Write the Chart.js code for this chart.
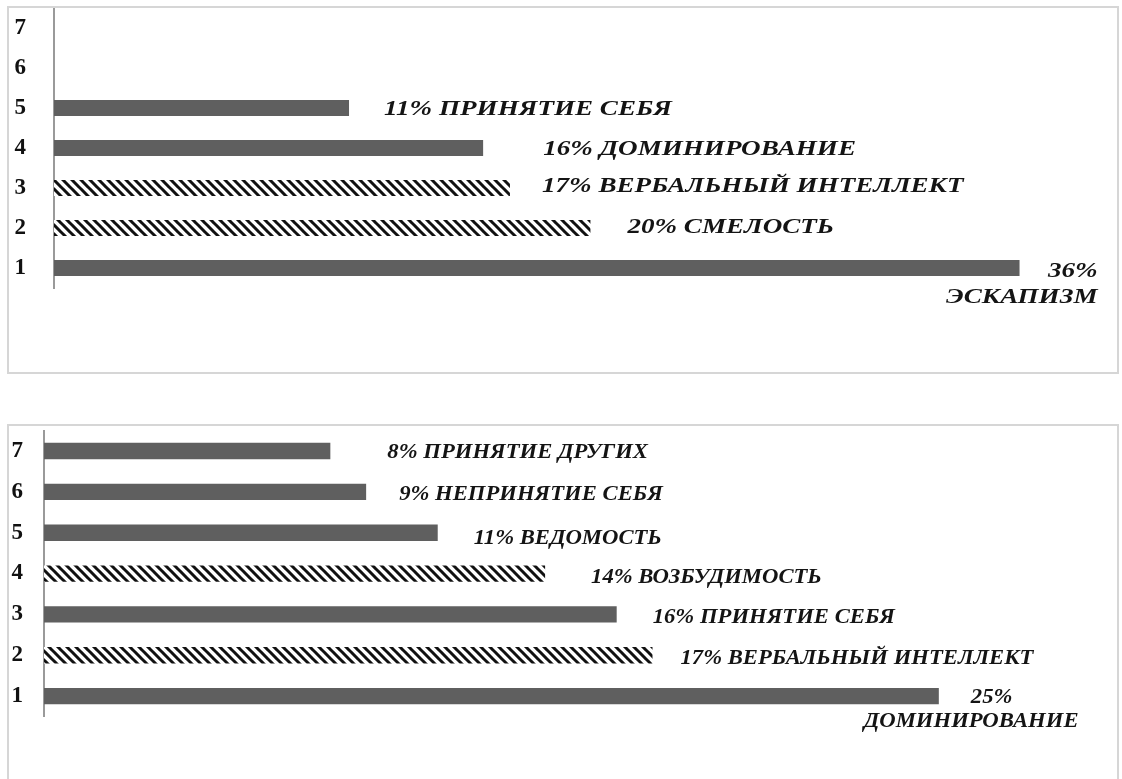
<!DOCTYPE html>
<html><head><meta charset="utf-8">
<script src="https://cdn.jsdelivr.net/npm/chart.js@4"></script>
<style>
html,body{margin:0;padding:0;background:#fff;}
body{width:1122px;height:779px;position:relative;overflow:hidden;}
.frame{position:absolute;border:2px solid #d6d6d6;box-sizing:border-box;}
.wrap{position:absolute;}
</style></head><body>
<div class="frame" style="left:7px;top:6px;width:1112px;height:368px"></div>
<div class="frame" style="left:7px;top:424px;width:1112px;height:370px"></div>
<div class="wrap" style="left:8px;top:8px;width:1110px;height:364px"><canvas id="c1"></canvas></div>
<div class="wrap" style="left:8px;top:426px;width:1110px;height:353px"><canvas id="c2"></canvas></div>
<script>
// ---- data ----
const categories = ['1', '2', '3', '4', '5', '6', '7'];

const topValues = [36, 20, 17, 16, 11, null, null];
const topNames = ['ЭСКАПИЗМ', 'СМЕЛОСТЬ', 'ВЕРБАЛЬНЫЙ ИНТЕЛЛЕКТ', 'ДОМИНИРОВАНИЕ', 'ПРИНЯТИЕ СЕБЯ', '', ''];
const topHatched = [false, true, true, false, false, false, false];

const bottomValues = [25, 17, 16, 14, 11, 9, 8];
const bottomNames = ['ДОМИНИРОВАНИЕ', 'ВЕРБАЛЬНЫЙ ИНТЕЛЛЕКТ', 'ПРИНЯТИЕ СЕБЯ', 'ВОЗБУДИМОСТЬ', 'ВЕДОМОСТЬ', 'НЕПРИНЯТИЕ СЕБЯ', 'ПРИНЯТИЕ ДРУГИХ'];
const bottomHatched = [false, true, false, true, false, false, false];

// ---- label placement (style, offsets in px from bar end / bar centre) ----
const topLabelLayout = [
  [{dx: 78, dy: 4, align: 'right'}, {dx: 78, dy: 30, align: 'right'}],
  [{dx: 37, dy: 0}],
  [{dx: 32, dy: -1}],
  [{dx: 60, dy: 2}],
  [{dx: 35, dy: 2}],
  null, null
];
const bottomLabelLayout = [
  [{dx: 32, dy: 1}, {dx: -75, dy: 25}],
  [{dx: 28, dy: 3}],
  [{dx: 36, dy: 3}],
  [{dx: 46, dy: 4}],
  [{dx: 36, dy: 6}],
  [{dx: 33, dy: 3}],
  [{dx: 57, dy: 2}]
];

const BAR_COLOR = '#5f5f5f';

function makeHatch() {
  const p = 9;
  const c = document.createElement('canvas');
  c.width = p; c.height = p;
  const g = c.getContext('2d');
  g.fillStyle = '#ffffff';
  g.fillRect(0, 0, p, p);
  g.strokeStyle = '#111111';
  g.lineWidth = 3;
  g.beginPath();
  for (let k = -1; k <= 1; k++) {
    g.moveTo(k * p - 1, -1);
    g.lineTo(k * p + p + 1, p + 1);
  }
  g.stroke();
  return g.createPattern(c, 'repeat');
}
const hatch = makeHatch();

const labelPlugin = {
  id: 'barLabels',
  afterDatasetsDraw(chart, args, opts) {
    const meta = chart.getDatasetMeta(0);
    const ctx = chart.ctx;
    ctx.save();
    ctx.fillStyle = opts.color;
    ctx.font = opts.font;
    ctx.textBaseline = 'middle';
    meta.data.forEach((bar, i) => {
      const v = opts.values[i];
      const lay = opts.layout[i];
      if (v == null || !lay) return;
      const texts = lay.length > 1 ? [v + '%', opts.names[i]] : [v + '% ' + opts.names[i]];
      lay.forEach((L, j) => {
        ctx.save();
        ctx.translate(bar.x + L.dx, bar.y + L.dy);
        ctx.scale(opts.stretch, 1);
        ctx.textAlign = L.align || 'left';
        ctx.fillText(texts[j], 0, 0);
        ctx.restore();
      });
    });
    ctx.restore();
  }
};

function buildChart(id, values, names, hatched, layout, cfg) {
  return new Chart(document.getElementById(id), {
    type: 'bar',
    data: {
      labels: categories,
      datasets: [{
        data: values,
        backgroundColor: hatched.map(h => h ? hatch : BAR_COLOR),
        borderWidth: 0,
        categoryPercentage: 1,
        barPercentage: 0.4
      }]
    },
    options: {
      indexAxis: 'y',
      responsive: true,
      maintainAspectRatio: false,
      animation: false,
      layout: {padding: cfg.padding},
      plugins: {
        legend: {display: false},
        tooltip: {enabled: false},
        barLabels: {
          values: values, names: names, layout: layout,
          font: 'italic bold 21px "Liberation Serif"',
          color: '#141414',
          stretch: cfg.stretch
        }
      },
      scales: {
        x: {display: false, min: 0, max: cfg.max},
        y: {
          reverse: true,
          afterFit: s => { s.width = cfg.axisWidth; s.paddingTop = 0; s.paddingBottom = 0; },
          grid: {display: true, drawOnChartArea: false, drawTicks: false},
          border: {display: true, color: '#9a9a9a', width: 2},
          ticks: {
            padding: cfg.tickPad,
            color: '#111',
            font: {family: 'Liberation Serif', size: 23, weight: 'bold'}
          }
        }
      }
    },
    plugins: [labelPlugin]
  });
}

buildChart('c1', topValues, topNames, topHatched, topLabelLayout,
  {padding: {top: 0, bottom: 84, left: 0, right: 18}, max: 39, axisWidth: 46, tickPad: 28, stretch: 1.29});
buildChart('c2', bottomValues, bottomNames, bottomHatched, bottomLabelLayout,
  {padding: {top: 4.6, bottom: 62.5, left: 0, right: 36}, max: 29, axisWidth: 36, tickPad: 21, stretch: 1.08});
</script>
</body></html>
